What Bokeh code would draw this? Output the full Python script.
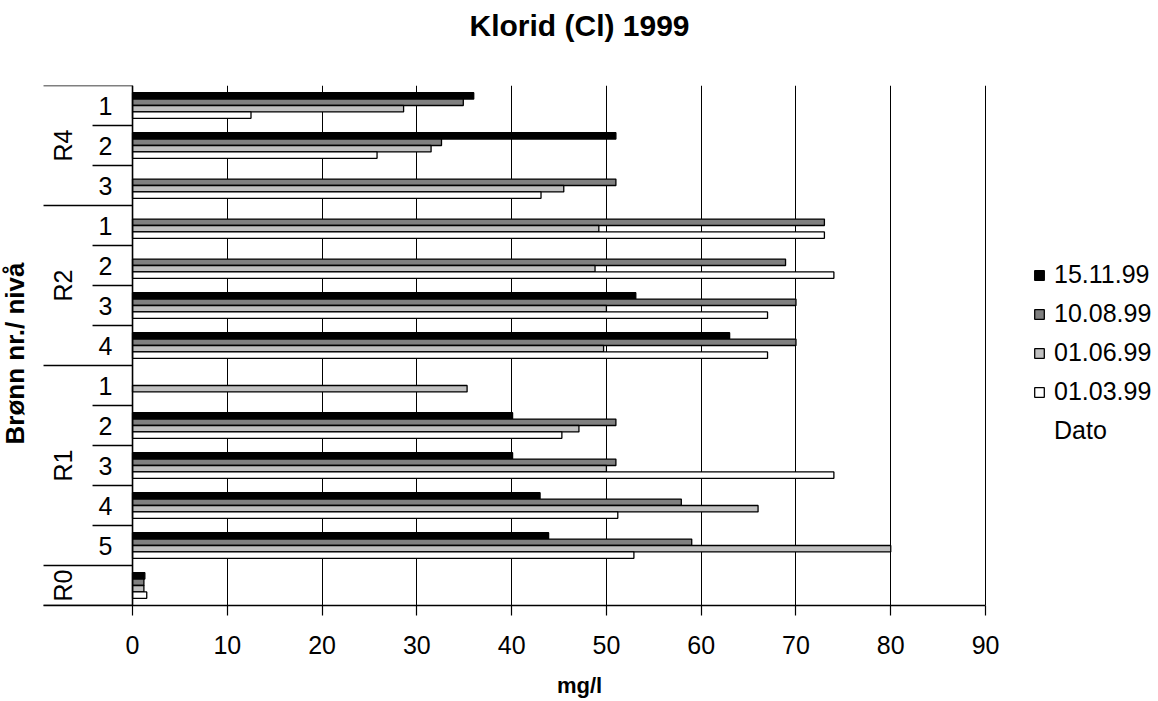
import math
from bokeh.plotting import figure
from bokeh.models import (FactorRange, Range1d, FixedTicker, Legend, LegendItem,
                          ColumnDataSource, Span, Title)
from bokeh.transform import dodge
from bokeh.core.properties import value
from bokeh.embed import file_html
from bokeh.resources import INLINE

# ---------------- data ----------------
title_text = "Klorid (Cl) 1999"
x_label = "mg/l"
y_label = "Brønn nr./ nivå"
legend_title = "Dato"

groups = ["R4", "R4", "R4", "R2", "R2", "R2", "R2", "R1", "R1", "R1", "R1", "R1", "R0"]
levels = ["1", "2", "3", "1", "2", "3", "4", "1", "2", "3", "4", "5", " "]

series_names = ["15.11.99", "10.08.99", "01.06.99", "01.03.99"]
s_151199 = [36.0, 51.0, None, None, None, 53.1, 63.0, None, 40.1, 40.1, 43.0, 43.9, 1.3]
s_100899 = [34.9, 32.6, 51.0, 73.0, 68.9, 70.0, 70.0, None, 51.0, 51.0, 57.9, 59.0, 1.2]
s_010699 = [28.6, 31.5, 45.5, 49.2, 48.8, 50.0, 49.7, 35.3, 47.1, 50.0, 66.0, 80.0, 1.2]
s_010399 = [12.5, 25.8, 43.1, 73.0, 74.0, 67.0, 67.0, None, 45.3, 74.0, 51.2, 52.9, 1.5]
x_ticks = [0, 10, 20, 30, 40, 50, 60, 70, 80, 90]

# ---------------- styles ----------------
FONT = "Liberation Sans"
colors = ["#000000", "#808080", "#c0c0c0", "#ffffff"]
offsets = [0.24, 0.08, -0.08, -0.24]
bar_h = 0.16

factors = list(zip(groups, levels))
n = len(factors)

p = figure(width=1158, height=701, output_backend="svg", toolbar_location=None,
           title=None,
           x_range=Range1d(-13.93, 108.25),
           y_range=FactorRange(factors=factors[::-1], factor_padding=0,
                               group_padding=0, range_padding=0),
           min_border_left=0, min_border_right=0, min_border_top=85,
           min_border_bottom=96)
p.outline_line_color = None
p.background_fill_color = "white"
p.border_fill_color = "white"

# title: a blank spacer next to the frame, then the real title above it
p.add_layout(Title(text=" ", text_font_size="2px", standoff=40), "above")
p.add_layout(Title(text=title_text, align="center", vertical_align="bottom",
                   standoff=0, text_font=FONT, text_font_size="30px",
                   text_font_style="bold", text_color="black"), "above")

# axes
p.yaxis.visible = False
p.ygrid.visible = False
ax = p.xaxis[0]
ax.ticker = FixedTicker(ticks=x_ticks)
ax.bounds = (-9.39, 90)
ax.axis_line_color = "black"
ax.axis_line_width = 1.5
ax.major_tick_out = 10
ax.major_tick_in = 0
ax.minor_tick_out = 0
ax.minor_tick_in = 0
ax.major_tick_line_color = "black"
ax.major_tick_line_width = 1.2
ax.major_label_text_font = FONT
ax.major_label_text_font_size = "25px"
ax.major_label_text_color = "black"
ax.major_label_standoff = 20
ax.axis_label = x_label
ax.axis_label_text_font = FONT
ax.axis_label_text_font_size = "22px"
ax.axis_label_text_font_style = "bold"
ax.axis_label_text_color = "black"
ax.axis_label_standoff = 16

p.xgrid.ticker = FixedTicker(ticks=x_ticks)
p.xgrid.grid_line_color = "black"
p.xgrid.grid_line_alpha = 1.0
p.xgrid.grid_line_width = 1

p.add_layout(Span(location=0, dimension="height", line_color="black", line_width=1.6))

# bars
all_series = [s_151199, s_100899, s_010699, s_010399]
renderers = []
for vals, col, off in zip(all_series, colors, offsets):
    cats = [f for f, v in zip(factors, vals) if v is not None]
    vs = [v for v in vals if v is not None]
    src = ColumnDataSource(dict(cat=cats, val=vs))
    r = p.hbar(y=dodge("cat", off, range=p.y_range), right="val", left=0,
               height=bar_h, source=src, fill_color=col, line_color="black",
               line_width=1.3)
    renderers.append(r)

# category separators
sep_cat, sep_x0 = [], []
for i, f in enumerate(factors):
    last = (i == n - 1) or (groups[i + 1] != groups[i])
    sep_cat.append(f)
    sep_x0.append(-9.39 if last else -4.22)
sep_src = ColumnDataSource(dict(cat=sep_cat, x0=sep_x0, x1=[0] * n))
p.segment(x0="x0", x1="x1", y0=dodge("cat", -0.5, range=p.y_range),
          y1=dodge("cat", -0.5, range=p.y_range), source=sep_src,
          line_color="black", line_width=1.5)
top_src = ColumnDataSource(dict(cat=[factors[0]], x0=[-9.39], x1=[0]))
p.segment(x0="x0", x1="x1", y0=dodge("cat", 0.5, range=p.y_range),
          y1=dodge("cat", 0.5, range=p.y_range), source=top_src,
          line_color="black", line_width=1.5)

# sub-level labels
lvl_src = ColumnDataSource(dict(cat=factors, txt=levels, x=[-2.85] * n))
p.text(x="x", y="cat", text="txt", source=lvl_src, text_font=value(FONT),
       text_font_size="25px", text_align="center", text_baseline="middle",
       text_color="black")

# group labels
ug = []
for g in groups:
    if g not in ug:
        ug.append(g)
grp_src = ColumnDataSource(dict(cat=ug, txt=ug, x=[-7.3] * len(ug)))
p.text(x="x", y="cat", text="txt", source=grp_src, text_font=value(FONT),
       text_font_size="25px", text_align="center", text_baseline="middle",
       angle=math.pi / 2, text_color="black")

# y axis label
p.text(x=[-12.35], y=[n / 2], text=[y_label], text_font=value(FONT),
       text_font_size="26px", text_font_style="bold", text_align="center",
       text_baseline="middle", angle=math.pi / 2, y_offset=8, text_color="black")

# legend
dummy = p.hbar(y=[], right=[], height=0.1, fill_alpha=0, line_alpha=0)
items = [LegendItem(label=nm, renderers=[r]) for nm, r in zip(series_names, renderers)]
items.append(LegendItem(label=legend_title, renderers=[dummy]))
legend = Legend(items=items, location=(1033, 160), orientation="vertical",
                glyph_width=12, glyph_height=12, label_standoff=9,
                label_text_font=FONT, label_text_font_size="25px",
                label_text_color="black", spacing=10, padding=0, margin=0,
                border_line_alpha=0, background_fill_alpha=0)
p.add_layout(legend)

open("out.html", "w").write(file_html(p, INLINE))
